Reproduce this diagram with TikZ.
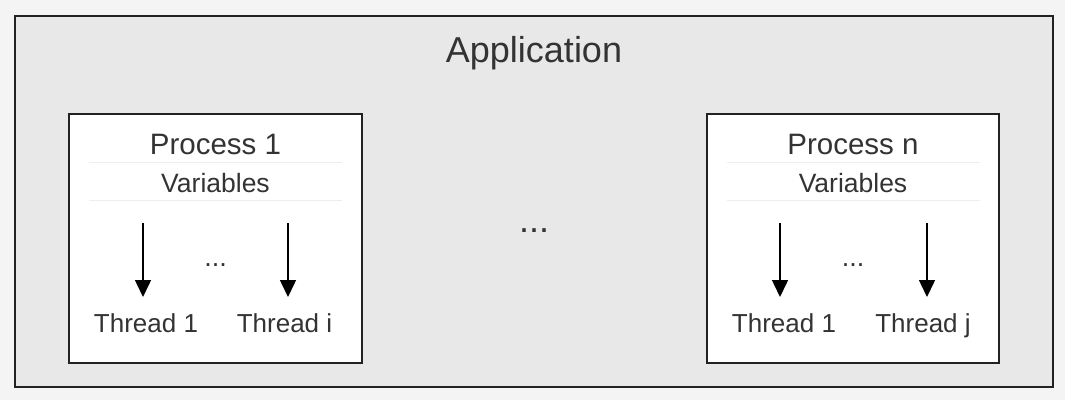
\documentclass[tikz,border=0pt]{standalone}
\usepackage{fontspec}
\setmainfont{Liberation Sans}
\usetikzlibrary{arrows.meta}
\definecolor{pagebg}{HTML}{F4F4F4}
\definecolor{appbg}{HTML}{E8E8E8}
\definecolor{txt}{HTML}{333333}
\definecolor{edge}{HTML}{222222}
\definecolor{sep}{HTML}{EEEEEE}
\tikzset{
  appbox/.style={draw=edge, line width=2pt, fill=appbg},
  procbox/.style={draw=edge, line width=2pt, fill=white},
  sepline/.style={draw=sep, line width=1pt},
  lbl/.style={text=txt, anchor=base, inner sep=0pt},
  thr/.style={-{Triangle[width=16pt,length=17pt]}, line width=1.5pt, draw=black},
}
\begin{document}
\begin{tikzpicture}[x=1pt,y=-1pt]
\useasboundingbox (0,0) rectangle (1065,400);
\fill[pagebg] (0,0) rectangle (1065,400);
% application
\draw[appbox] (15,16) rectangle (1053,387);
\node[lbl, font=\fontsize{36}{40}\selectfont] (app) at (534,62) {Application};
\node[lbl, font=\fontsize{36}{40}\selectfont] (mid) at (534,232) {...};
% process 1
\draw[procbox] (69,114) rectangle (362,363);
\node[lbl, font=\fontsize{29.5}{32}\selectfont] (p1) at (215.5,154) {Process 1};
\draw[sepline] (89,162) -- (342,162);
\node[lbl, font=\fontsize{26.5}{30}\selectfont] (v1) at (215.5,192) {Variables};
\draw[sepline] (89,200) -- (342,200);
\coordinate (p1a) at (143,223);
\coordinate (p1ae) at (143,297);
\coordinate (p1b) at (288,223);
\coordinate (p1be) at (288,297);
\draw[thr] (p1a) -- (p1ae);
\draw[thr] (p1b) -- (p1be);
\node[lbl, font=\fontsize{27}{30}\selectfont] (d1) at (215.5,266) {...};
\node[lbl, font=\fontsize{26}{30}\selectfont] (t11) at (146,332) {Thread 1};
\node[lbl, font=\fontsize{26}{30}\selectfont] (t1i) at (284.5,332) {Thread i};
% process n
\draw[procbox] (707,114) rectangle (999,363);
\node[lbl, font=\fontsize{29.5}{32}\selectfont] (pn) at (853,154) {Process n};
\draw[sepline] (727,162) -- (980,162);
\node[lbl, font=\fontsize{26.5}{30}\selectfont] (vn) at (853,192) {Variables};
\draw[sepline] (727,200) -- (980,200);
\coordinate (pna) at (780,223);
\coordinate (pnae) at (780,297);
\coordinate (pnb) at (927,223);
\coordinate (pnbe) at (927,297);
\draw[thr] (pna) -- (pnae);
\draw[thr] (pnb) -- (pnbe);
\node[lbl, font=\fontsize{27}{30}\selectfont] (dn) at (853,266) {...};
\node[lbl, font=\fontsize{26}{30}\selectfont] (tn1) at (784,332) {Thread 1};
\node[lbl, font=\fontsize{26}{30}\selectfont] (tnj) at (923,332) {Thread j};
\end{tikzpicture}
\end{document}
